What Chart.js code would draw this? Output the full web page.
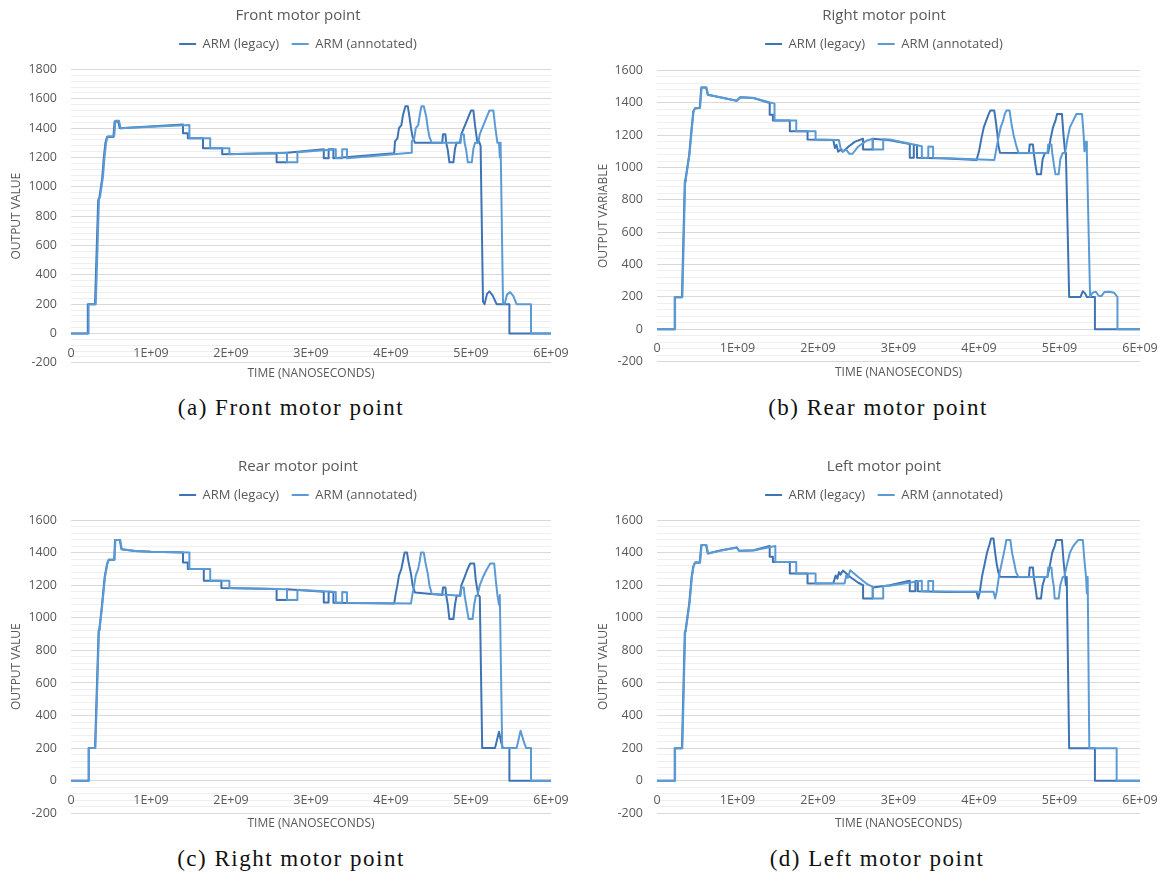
<!DOCTYPE html>
<html><head><meta charset="utf-8">
<script src="https://cdn.jsdelivr.net/npm/chart.js@4.4.1/dist/chart.umd.min.js"></script>
<style>
html,body{margin:0;padding:0;background:#fff;width:1166px;height:877px;overflow:hidden;position:relative}
canvas{position:absolute;display:block}
.cap{position:absolute;font-family:"Liberation Serif","Times New Roman",serif;font-size:23px;letter-spacing:1.5px;color:#111;white-space:nowrap;transform:translate(-50%,-50%)}
</style></head><body>
<canvas id="cA" width="596" height="385" style="left:0px;top:0px"></canvas>
<canvas id="cB" width="594" height="385" style="left:587px;top:0px"></canvas>
<canvas id="cC" width="596" height="385" style="left:0px;top:451px"></canvas>
<canvas id="cD" width="594" height="385" style="left:587px;top:451px"></canvas>
<div class="cap" style="left:291px;top:408px">(a) Front motor point</div>
<div class="cap" style="left:878px;top:408px">(b) Rear motor point</div>
<div class="cap" style="left:291px;top:859px">(c) Right motor point</div>
<div class="cap" style="left:877px;top:859px">(d) Left motor point</div>
<script>
// Series names
const seriesNames = ['ARM (legacy)', 'ARM (annotated)'];
// x tick values (nanoseconds)
const xTicks = [0, 1e9, 2e9, 3e9, 4e9, 5e9, 6e9];
// Time values are in units of 1e9 ns; output values.

// (a) Front motor point
const frontLegacy = [[0,0],[0.21,0],[0.21,200],[0.30,200],[0.34,910],[0.355,930],[0.39,1060],[0.41,1200],[0.43,1300],[0.45,1340],[0.53,1340],[0.545,1445],[0.59,1445],[0.61,1400],[1.40,1425],[1.40,1365],[1.46,1365],[1.46,1331],[1.65,1331],[1.65,1263],[1.89,1263],[1.89,1222],[2.57,1229],[2.57,1167],[2.70,1167],[2.70,1232],[3.16,1256],[3.16,1195],[3.22,1195],[3.22,1256],[3.28,1256],[3.28,1195],[4.04,1229],[4.05,1310],[4.08,1330],[4.10,1400],[4.13,1420],[4.15,1490],[4.18,1550],[4.21,1550],[4.23,1480],[4.25,1400],[4.27,1340],[4.30,1300],[4.64,1300],[4.65,1358],[4.68,1358],[4.69,1300],[4.71,1250],[4.73,1167],[4.78,1167],[4.80,1260],[4.82,1300],[4.86,1300],[4.88,1360],[4.91,1400],[4.94,1440],[4.97,1480],[5.00,1520],[5.03,1520],[5.05,1420],[5.07,1340],[5.08,1300],[5.10,1310],[5.12,1280],[5.15,218],[5.17,200],[5.20,270],[5.23,287],[5.27,260],[5.32,200],[5.48,200],[5.48,0],[6.0,0]];
const frontAnnotated = [[0,0],[0.22,0],[0.22,200],[0.31,200],[0.35,915],[0.365,935],[0.40,1070],[0.42,1210],[0.44,1305],[0.46,1345],[0.54,1345],[0.555,1450],[0.60,1450],[0.62,1400],[1.48,1422],[1.48,1331],[1.74,1331],[1.74,1263],[1.98,1263],[1.98,1222],[2.70,1232],[2.70,1167],[2.83,1167],[2.83,1236],[3.31,1256],[3.31,1195],[3.39,1195],[3.39,1256],[3.45,1256],[3.45,1195],[4.25,1232],[4.26,1310],[4.29,1330],[4.31,1400],[4.34,1420],[4.36,1490],[4.38,1550],[4.41,1550],[4.44,1480],[4.46,1400],[4.48,1340],[4.51,1300],[4.87,1300],[4.88,1358],[4.91,1358],[4.92,1300],[4.94,1250],[4.96,1167],[5.01,1167],[5.03,1260],[5.05,1300],[5.09,1300],[5.11,1360],[5.14,1400],[5.17,1440],[5.20,1480],[5.23,1520],[5.28,1520],[5.30,1420],[5.32,1340],[5.33,1300],[5.35,1300],[5.36,1200],[5.37,1300],[5.40,210],[5.42,200],[5.45,265],[5.49,282],[5.53,255],[5.57,200],[5.75,200],[5.75,0],[6.0,0]];

// (b) Right motor point
const rightLegacy = [[0,0],[0.22,0],[0.22,198],[0.31,198],[0.345,910],[0.355,930],[0.40,1080],[0.43,1245],[0.45,1345],[0.47,1365],[0.53,1368],[0.55,1495],[0.61,1495],[0.63,1450],[0.99,1413],[1.03,1434],[1.20,1430],[1.40,1399],[1.40,1327],[1.44,1327],[1.44,1290],[1.65,1290],[1.65,1225],[1.87,1225],[1.87,1173],[2.19,1170],[2.21,1120],[2.23,1140],[2.25,1098],[2.28,1110],[2.31,1098],[2.38,1130],[2.46,1160],[2.56,1178],[2.56,1112],[2.68,1112],[2.68,1178],[2.89,1168],[3.14,1145],[3.14,1060],[3.19,1060],[3.19,1140],[3.23,1138],[3.23,1060],[3.60,1055],[3.97,1046],[4.00,1100],[4.03,1180],[4.06,1250],[4.09,1290],[4.12,1330],[4.14,1352],[4.19,1352],[4.21,1280],[4.23,1200],[4.24,1140],[4.26,1091],[4.62,1090],[4.63,1143],[4.67,1143],[4.68,1090],[4.70,1020],[4.72,958],[4.77,958],[4.79,1050],[4.82,1090],[4.86,1090],[4.89,1180],[4.92,1250],[4.95,1290],[4.97,1331],[5.03,1331],[5.05,1200],[5.07,1091],[5.08,1080],[5.12,199],[5.26,199],[5.29,235],[5.32,220],[5.34,199],[5.44,199],[5.44,0],[6.0,0]];
const rightAnnotated = [[0,0],[0.225,0],[0.225,198],[0.315,198],[0.35,915],[0.36,935],[0.405,1085],[0.435,1250],[0.455,1350],[0.475,1368],[0.535,1370],[0.555,1495],[0.615,1495],[0.635,1450],[0.99,1413],[1.04,1434],[1.20,1430],[1.46,1395],[1.46,1290],[1.73,1290],[1.73,1225],[1.97,1225],[1.97,1173],[2.26,1170],[2.28,1120],[2.31,1100],[2.35,1110],[2.39,1085],[2.43,1085],[2.50,1130],[2.60,1165],[2.68,1178],[2.68,1112],[2.81,1112],[2.81,1175],[2.89,1173],[3.29,1132],[3.29,1060],[3.37,1060],[3.37,1130],[3.43,1128],[3.43,1060],[3.70,1055],[4.19,1046],[4.21,1100],[4.24,1180],[4.27,1250],[4.30,1290],[4.32,1330],[4.34,1352],[4.38,1352],[4.40,1280],[4.43,1200],[4.46,1140],[4.49,1091],[4.85,1090],[4.86,1143],[4.90,1143],[4.91,1090],[4.93,1020],[4.95,958],[4.99,958],[5.01,1050],[5.04,1090],[5.07,1090],[5.10,1180],[5.13,1250],[5.17,1290],[5.21,1331],[5.28,1331],[5.30,1200],[5.31,1100],[5.33,1160],[5.34,1090],[5.38,199],[5.41,225],[5.45,232],[5.49,205],[5.52,205],[5.56,230],[5.62,232],[5.68,225],[5.72,199],[5.72,0],[6.0,0]];

// (c) Rear motor point
const rearLegacy = [[0,0],[0.22,0],[0.22,200],[0.30,200],[0.345,920],[0.355,935],[0.38,1043],[0.42,1247],[0.45,1329],[0.47,1356],[0.54,1356],[0.55,1477],[0.61,1477],[0.63,1421],[0.8,1410],[1.0,1405],[1.40,1400],[1.40,1339],[1.46,1339],[1.46,1299],[1.66,1299],[1.66,1227],[1.88,1227],[1.88,1182],[2.57,1176],[2.57,1109],[2.70,1109],[2.70,1175],[3.16,1160],[3.16,1094],[3.22,1094],[3.22,1160],[3.28,1158],[3.28,1092],[4.04,1088],[4.06,1150],[4.08,1200],[4.10,1260],[4.13,1300],[4.15,1350],[4.17,1400],[4.20,1400],[4.22,1340],[4.25,1270],[4.27,1200],[4.30,1155],[4.64,1140],[4.65,1186],[4.68,1186],[4.69,1138],[4.71,1080],[4.73,992],[4.78,992],[4.80,1080],[4.82,1135],[4.86,1135],[4.88,1200],[4.92,1250],[4.95,1290],[4.99,1333],[5.04,1333],[5.06,1230],[5.09,1140],[5.11,1130],[5.14,200],[5.30,200],[5.35,300],[5.38,230],[5.40,200],[5.48,200],[5.48,0],[6.0,0]];
const rearAnnotated = [[0,0],[0.225,0],[0.225,200],[0.305,200],[0.35,925],[0.36,940],[0.385,1050],[0.425,1250],[0.455,1332],[0.475,1356],[0.545,1356],[0.555,1477],[0.615,1477],[0.635,1421],[0.8,1410],[1.0,1405],[1.48,1400],[1.48,1299],[1.74,1299],[1.74,1227],[1.98,1227],[1.98,1182],[2.70,1175],[2.70,1109],[2.83,1109],[2.83,1172],[3.31,1158],[3.31,1094],[3.39,1094],[3.39,1158],[3.45,1156],[3.45,1092],[4.25,1088],[4.27,1150],[4.29,1200],[4.31,1260],[4.34,1300],[4.36,1350],[4.375,1400],[4.41,1400],[4.43,1340],[4.46,1270],[4.48,1200],[4.51,1148],[4.87,1135],[4.88,1186],[4.91,1186],[4.92,1135],[4.94,1080],[4.97,992],[5.02,992],[5.04,1080],[5.06,1135],[5.08,1135],[5.11,1200],[5.15,1250],[5.19,1290],[5.24,1333],[5.29,1333],[5.31,1230],[5.33,1140],[5.35,1080],[5.36,1140],[5.39,200],[5.57,200],[5.62,307],[5.66,240],[5.69,200],[5.75,200],[5.75,0],[6.0,0]];

// (d) Left motor point
const leftLegacy = [[0,0],[0.22,0],[0.22,199],[0.31,199],[0.345,910],[0.355,925],[0.40,1087],[0.43,1251],[0.45,1313],[0.47,1337],[0.53,1337],[0.55,1446],[0.61,1446],[0.63,1395],[0.80,1415],[0.99,1432],[1.02,1411],[1.20,1415],[1.40,1440],[1.40,1374],[1.44,1374],[1.44,1343],[1.65,1343],[1.65,1272],[1.87,1272],[1.87,1210],[2.19,1212],[2.22,1260],[2.24,1240],[2.26,1280],[2.28,1265],[2.31,1290],[2.40,1250],[2.50,1215],[2.56,1200],[2.56,1118],[2.68,1118],[2.68,1186],[2.89,1200],[3.14,1227],[3.14,1163],[3.21,1163],[3.21,1225],[3.24,1225],[3.24,1163],[3.60,1158],[3.97,1160],[3.99,1118],[4.01,1160],[4.04,1260],[4.07,1330],[4.10,1400],[4.13,1450],[4.15,1487],[4.18,1487],[4.20,1400],[4.22,1330],[4.24,1280],[4.26,1251],[4.62,1250],[4.63,1309],[4.67,1309],[4.68,1250],[4.70,1190],[4.72,1118],[4.77,1118],[4.79,1200],[4.82,1250],[4.85,1250],[4.88,1320],[4.91,1400],[4.94,1440],[4.96,1477],[5.03,1477],[5.05,1350],[5.07,1250],[5.08,1200],[5.09,1250],[5.12,199],[5.44,199],[5.44,0],[6.0,0]];
const leftAnnotated = [[0,0],[0.225,0],[0.225,199],[0.315,199],[0.35,915],[0.36,930],[0.405,1090],[0.435,1255],[0.455,1318],[0.475,1340],[0.535,1340],[0.555,1446],[0.615,1446],[0.635,1395],[0.80,1413],[0.99,1430],[1.02,1410],[1.20,1413],[1.47,1440],[1.47,1343],[1.73,1343],[1.73,1272],[1.97,1272],[1.97,1210],[2.33,1210],[2.35,1260],[2.37,1245],[2.40,1292],[2.50,1250],[2.60,1210],[2.68,1190],[2.68,1118],[2.81,1118],[2.81,1195],[2.89,1197],[3.29,1227],[3.29,1163],[3.37,1163],[3.37,1225],[3.43,1225],[3.43,1163],[3.80,1160],[4.18,1160],[4.20,1118],[4.22,1160],[4.25,1260],[4.28,1330],[4.31,1400],[4.33,1450],[4.34,1477],[4.39,1477],[4.41,1400],[4.44,1330],[4.46,1280],[4.49,1251],[4.85,1250],[4.86,1309],[4.90,1309],[4.91,1250],[4.93,1190],[4.94,1118],[4.99,1118],[5.01,1200],[5.04,1250],[5.06,1250],[5.09,1320],[5.13,1400],[5.17,1440],[5.23,1477],[5.29,1477],[5.31,1350],[5.33,1250],[5.34,1150],[5.35,1250],[5.37,199],[5.71,199],[5.71,0],[6.0,0]];

const colors = ['#3e73b4', '#5b9bd5'];
const FONT = '"Open Sans", "Liberation Sans", sans-serif';
const GRAY = '#595959';

function toPoints(arr) { return arr.map(p => ({x: p[0] * 1e9, y: p[1]})); }
function fmtX(v) { return v === 0 ? '0' : Math.round(v / 1e9) + 'E+09'; }

function makeChart(id, title, yTitle, yMax, leftW, rightW, topH, subPad, legacy, annotated) {
  new Chart(document.getElementById(id), {
    type: 'scatter',
    data: {
      datasets: [
        {label: seriesNames[0], data: toPoints(legacy), borderColor: colors[0], backgroundColor: colors[0], order: 1},
        {label: seriesNames[1], data: toPoints(annotated), borderColor: colors[1], backgroundColor: colors[1], order: 0}
      ].map(d => Object.assign(d, {showLine: true, pointRadius: 0, pointHoverRadius: 0, borderWidth: 2, tension: 0, borderJoinStyle: 'round'}))
    },
    options: {
      responsive: false, animation: false, events: [],
      layout: {padding: 0},
      plugins: {
        tooltip: {enabled: false},
        title: {display: true, text: title, color: GRAY, font: {family: FONT, size: 15, weight: 'normal'}, padding: {top: 7, bottom: 0}},
        subtitle: {display: true, position: 'bottom', fullSize: false, text: 'TIME (NANOSECONDS)', color: GRAY,
          font: {family: FONT, size: 12}, padding: {top: subPad[0], bottom: subPad[1]}},
        legend: {position: 'top', align: 'center', labels: {
          boxWidth: 17, boxHeight: 2, padding: 12.5, color: GRAY, font: {family: FONT, size: 13},
          sort: (a, b) => a.datasetIndex - b.datasetIndex,
          generateLabels: ch => Chart.defaults.plugins.legend.labels.generateLabels(ch).map(l => Object.assign(l, {lineWidth: 0}))
        }}
      },
      scales: {
        x: {
          type: 'linear', position: {y: 0}, min: xTicks[0], max: xTicks[xTicks.length - 1],
          afterBuildTicks: s => { s.ticks = xTicks.map(v => ({value: v})); },
          ticks: {callback: v => fmtX(v), color: GRAY, font: {family: FONT, size: 12.5}, padding: 12, maxRotation: 0, autoSkip: false},
          grid: {display: false, drawTicks: false}, border: {display: false}
        },
        y: {
          type: 'linear', position: 'left', min: -200, max: yMax,
          afterFit: s => { s.width = leftW; },
          ticks: {stepSize: 40, autoSkip: false, padding: 14, color: GRAY, font: {family: FONT, size: 12.5},
            callback: v => (Math.round(v) % 200 === 0) ? String(Math.round(v)) : ''},
          grid: {drawTicks: false, lineWidth: 1,
            color: c => (c.tick && Math.round(c.tick.value) % 200 === 0) ? '#d9d9d9' : '#efefef'},
          border: {display: false},
          title: {display: true, text: yTitle, color: GRAY, font: {family: FONT, size: 12}, padding: {top: 9, bottom: 0}}
        },
        xt: {
          type: 'linear', position: 'top', display: true, afterFit: s => { s.height = topH; },
          ticks: {display: false}, grid: {display: false, drawTicks: false}, border: {display: false}
        },
        yr: {
          type: 'linear', position: 'right', display: true, afterFit: s => { s.width = rightW; },
          ticks: {display: false}, grid: {display: false, drawTicks: false}, border: {display: false}
        }
      }
    }
  });
}

makeChart('cA', 'Front motor point', 'OUTPUT VALUE', 1800, 71, 45, 9, [3.8, 4.0], frontLegacy, frontAnnotated);
makeChart('cB', 'Right motor point', 'OUTPUT VARIABLE', 1600, 70, 41, 10, [3.8, 5.3], rightLegacy, rightAnnotated);
makeChart('cC', 'Rear motor point', 'OUTPUT VALUE', 1600, 71, 45, 8.5, [2.8, 5.5], rearLegacy, rearAnnotated);
makeChart('cD', 'Left motor point', 'OUTPUT VALUE', 1600, 70, 41, 8.5, [2.8, 5.5], leftLegacy, leftAnnotated);
</script>
</body></html>
